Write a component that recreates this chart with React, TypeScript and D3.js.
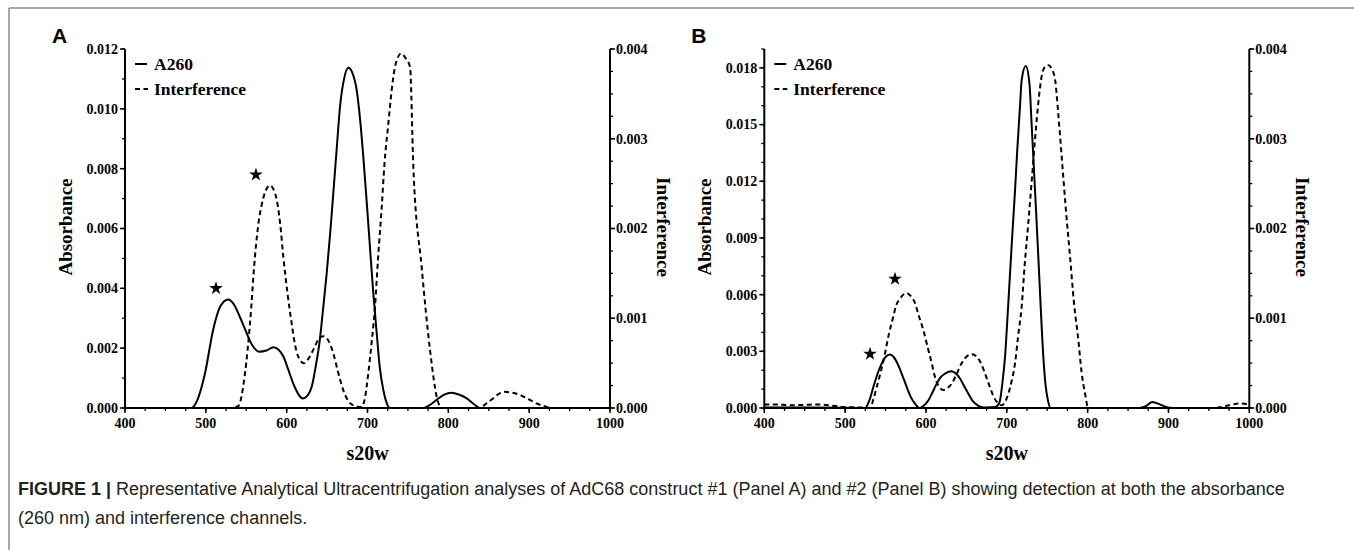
import React from "react";
import * as d3 from "d3";

// ---------- DATA ----------
const X_TICKS = [400, 500, 600, 700, 800, 900, 1000];
const A_LEFT_TICKS = [0, 0.002, 0.004, 0.006, 0.008, 0.01, 0.012];
const B_LEFT_TICKS = [0, 0.003, 0.006, 0.009, 0.012, 0.015, 0.018];
const RIGHT_TICKS = [0, 0.001, 0.002, 0.003, 0.004];

// Panel A, A260 (left axis)
const A_A260: [number, number][] = [
  [400, 0], [470, 0], [482, 0], [490, 0.0003], [499, 0.00116], [509, 0.00261], [518, 0.0034],
  [527.8, 0.00363], [535, 0.00345], [542, 0.00305], [549, 0.0026], [555, 0.00222], [560, 0.002],
  [566, 0.00188], [575, 0.00192], [583.5, 0.00203], [590, 0.00195], [596, 0.00172], [602, 0.00128],
  [608, 0.00083], [614, 0.00048], [620, 0.00032], [626, 0.00042], [631, 0.00071], [636, 0.0014],
  [641, 0.00227], [645, 0.0033], [649.5, 0.0045], [654, 0.0059], [658, 0.00729], [662, 0.0087],
  [666, 0.01007], [671, 0.0110], [676.3, 0.01137], [681, 0.01122], [686.6, 0.01063], [691, 0.0096],
  [694.8, 0.0084], [699, 0.0069], [703, 0.00539], [707, 0.0039], [711.4, 0.0025], [715, 0.0014],
  [719.6, 0.0006], [724, 0.00015], [728, 0], [769, 0], [777, 0.0001], [785.6, 0.00027], [795, 0.00045],
  [804, 0.00051], [813, 0.00045], [822.7, 0.00032], [831, 0.00014], [839, 0], [1000, 0],
];

// Panel A, Interference (right axis)
const A_INTERF: [number, number][] = [
  [400, 0], [530, 0], [540, 0.00002], [548.5, 0.00039], [554.6, 0.00094], [560.8, 0.00169],
  [565, 0.00205], [569, 0.00226], [574, 0.00242], [579.4, 0.00248], [584, 0.00243], [587.7, 0.00232],
  [592, 0.00205], [595.8, 0.00169], [601, 0.00128], [606.2, 0.00094], [610, 0.00072], [614.4, 0.00057],
  [621.5, 0.0005], [627, 0.00055], [633, 0.00065], [639, 0.00076], [645.3, 0.0008], [651, 0.00076],
  [657.7, 0.00061], [663, 0.00042], [670, 0.0002], [676, 0.00008], [682.4, 0.00003], [692.8, 0.00001],
  [697, 0.00012], [701, 0.00039], [705, 0.00072], [709.3, 0.00113], [713, 0.00166], [717.6, 0.00224],
  [721, 0.00272], [725.8, 0.00317], [730, 0.00355], [734, 0.0038], [741.5, 0.00395], [747, 0.0039],
  [752.6, 0.0038], [756.7, 0.00269], [767, 0.00157], [777.3, 0.00065], [785.6, 0.000126],
  [791.8, 0], [839, 0], [847, 0.00005], [855.7, 0.000108], [863, 0.00016], [870, 0.00018],
  [879, 0.00017], [888.7, 0.000145], [899, 0.0001], [909.3, 0.00005], [919, 0.00002], [929, 0], [1000, 0],
];

// Panel B, A260 (left axis)
const B_A260: [number, number][] = [
  [400, 0.00002], [450, 0.00002], [500, 0.00001], [524.6, 0], [530, 0.0004], [534.9, 0.00111],
  [540, 0.0018], [545.2, 0.00235], [550, 0.0027], [555.5, 0.00283], [560, 0.0027], [565.8, 0.00226],
  [571, 0.0017], [576.2, 0.00111], [581, 0.0006], [586.4, 0.00023], [592.6, 0], [597, 0.00012],
  [602.9, 0.0004], [608, 0.00082], [613.3, 0.00129], [618, 0.00162], [623.6, 0.00182], [631.8, 0.00194],
  [637, 0.00182], [642.1, 0.00156], [647, 0.00118], [652.4, 0.00076], [657, 0.00042], [662.7, 0.00018],
  [668, 0.00006], [675, 0.00003], [685.4, 0.00005], [689, 0.00015], [691.6, 0.0004], [694.5, 0.0013],
  [697.8, 0.0027], [701, 0.0049], [704, 0.00712], [707, 0.0093], [710.2, 0.01153], [713, 0.0137],
  [716.3, 0.01594], [718.4, 0.01736], [723.4, 0.0181], [728, 0.01718], [730.5, 0.0152], [732.8, 0.0133],
  [736, 0.0106], [739, 0.008], [742, 0.0053], [745.2, 0.0027], [748, 0.0012], [750.1, 0.00058],
  [754.3, 0], [864, 0], [872, 0.0001], [880, 0.00032], [890, 0.00018], [898, 0.00004], [905, 0], [1000, 0],
];

// Panel B, Interference (right axis)
const B_INTERF: [number, number][] = [
  [400, 0.000038], [415, 0.00004], [432, 0.00003], [450, 0.000035], [465, 0.00004], [480, 0.00003],
  [500, 0.00001], [520, 0.000005], [530.8, 0], [535, 0.0001], [539, 0.00023], [544, 0.0004],
  [549.3, 0.00061], [554, 0.00082], [559.6, 0.00102], [563, 0.00114], [567.9, 0.00122], [576.1, 0.00128],
  [581, 0.00125], [586.4, 0.00117], [591, 0.00103], [596.7, 0.00087], [602, 0.00068], [607.1, 0.0005],
  [611, 0.00035], [615.3, 0.00025], [621.5, 0.0002], [626, 0.00022], [631.8, 0.00027], [638, 0.00038],
  [644.2, 0.0005], [650, 0.00057], [656.6, 0.0006], [663, 0.00057], [669, 0.00048], [674, 0.00036],
  [679.2, 0.00023], [684, 0.00012], [687.5, 0.00007], [693.7, 0.00003], [698, 0.00007], [701.9, 0.00016],
  [706, 0.0003], [710.2, 0.0005], [714, 0.0008], [718.4, 0.00113], [722, 0.00158], [726.6, 0.00206],
  [731, 0.00255], [734.9, 0.00299], [739, 0.0034], [743.2, 0.0037], [747, 0.0038], [751.4, 0.00382],
  [755.5, 0.00378], [759.7, 0.00366], [763.5, 0.0033], [767.9, 0.0028], [773, 0.00222], [778.2, 0.00169],
  [783, 0.00118], [788.5, 0.00076], [792.5, 0.0004], [796.8, 0.00016], [800.8, 0], [955, 0],
  [965, 0.00001], [975, 0.00003], [988.5, 0.00005], [1000, 0.00004],
];

// star markers: [s20w, absorbance]
const A_STARS: [number, number][] = [[512.6, 0.004], [562, 0.0078]];
const B_STARS: [number, number][] = [[530.8, 0.00286], [561.7, 0.00683]];

// ---------- DRAWING ----------
const SERIF = "'Liberation Serif', 'Times New Roman', Times, serif";
const SANS = "'Liberation Sans', Arial, Helvetica, sans-serif";

type PanelProps = {
  letter: string;
  x0: number;
  x1: number;
  leftMax: number;
  leftTicks: number[];
  leftMinorStep: number;
  a260: [number, number][];
  interf: [number, number][];
  stars: [number, number][];
};

const Y_TOP = 49;
const Y_BOT = 408;

function Panel(p: PanelProps) {
  const x = d3.scaleLinear().domain([400, 1000]).range([p.x0, p.x1]);
  const yL = d3.scaleLinear().domain([0, p.leftMax]).range([Y_BOT, Y_TOP]);
  const yR = d3.scaleLinear().domain([0, 0.004]).range([Y_BOT, Y_TOP]);
  const fmt = d3.format(".3f");

  const lineL = d3
    .line<[number, number]>()
    .x((d) => x(d[0]))
    .y((d) => yL(d[1]))
    .curve(d3.curveMonotoneX);
  const lineR = d3
    .line<[number, number]>()
    .x((d) => x(d[0]))
    .y((d) => yR(d[1]))
    .curve(d3.curveMonotoneX);

  const leftMinor = d3.range(0, p.leftMax + 1e-9, p.leftMinorStep);
  const rightMinor = d3.range(0, 0.004 + 1e-9, 0.00025);
  const xMinor = d3.range(400, 1000.001, 25);
  const star = d3.symbol(d3.symbolStar, 58)();
  const midY = 227;
  const cx = (p.x0 + p.x1) / 2;

  return (
    <g>
      <text x={p.x0 - 73} y={43} fontFamily={SANS} fontWeight="bold" fontSize={21} fill="#000">
        {p.letter}
      </text>

      {/* curves */}
      <path d={lineL(p.a260) || ""} fill="none" stroke="#000" strokeWidth={2} strokeLinejoin="round" />
      <path d={lineR(p.interf) || ""} fill="none" stroke="#000" strokeWidth={2} strokeDasharray="5,3.5" />

      {p.stars.map((s, i) => (
        <path key={i} d={star || ""} transform={`translate(${x(s[0])},${yL(s[1])})`} fill="#000" />
      ))}

      {/* x axis */}
      <line x1={p.x0} x2={p.x1} y1={Y_BOT} y2={Y_BOT} stroke="#000" strokeWidth={2} />
      {xMinor.map((t) => (
        <line key={"xm" + t} x1={x(t)} x2={x(t)} y1={Y_BOT} y2={Y_BOT + 3} stroke="#000" strokeWidth={1.3} />
      ))}
      {X_TICKS.map((t) => (
        <g key={"x" + t}>
          <line x1={x(t)} x2={x(t)} y1={Y_BOT} y2={Y_BOT + 5} stroke="#000" strokeWidth={1.5} />
          <text x={x(t)} y={Y_BOT + 20} textAnchor="middle" fontFamily={SERIF} fontWeight="bold" fontSize={14}>
            {t}
          </text>
        </g>
      ))}
      <text x={cx} y={460} textAnchor="middle" fontFamily={SERIF} fontWeight="bold" fontSize={20}>
        s20w
      </text>

      {/* left axis */}
      <line x1={p.x0} x2={p.x0} y1={Y_TOP} y2={Y_BOT} stroke="#000" strokeWidth={2} />
      {leftMinor.map((t, i) => (
        <line key={"lm" + i} x1={p.x0 - 3} x2={p.x0} y1={yL(t)} y2={yL(t)} stroke="#000" strokeWidth={1.3} />
      ))}
      {p.leftTicks.map((t) => (
        <g key={"l" + t}>
          <line x1={p.x0 - 5} x2={p.x0} y1={yL(t)} y2={yL(t)} stroke="#000" strokeWidth={1.5} />
          <text x={p.x0 - 7} y={yL(t)} dy="0.35em" textAnchor="end" fontFamily={SERIF} fontWeight="bold" fontSize={14}>
            {fmt(t)}
          </text>
        </g>
      ))}
      <text
        transform={`translate(${p.x0 - 53.5},${midY}) rotate(-90)`}
        textAnchor="middle"
        fontFamily={SERIF}
        fontWeight="bold"
        fontSize={19}
      >
        Absorbance
      </text>

      {/* right axis */}
      <line x1={p.x1} x2={p.x1} y1={Y_TOP} y2={Y_BOT} stroke="#000" strokeWidth={2} />
      {rightMinor.map((t, i) => (
        <line key={"rm" + i} x1={p.x1} x2={p.x1 + 3} y1={yR(t)} y2={yR(t)} stroke="#000" strokeWidth={1.3} />
      ))}
      {RIGHT_TICKS.map((t) => (
        <g key={"r" + t}>
          <line x1={p.x1} x2={p.x1 + 5} y1={yR(t)} y2={yR(t)} stroke="#000" strokeWidth={1.5} />
          <text x={p.x1 + 6} y={yR(t)} dy="0.35em" textAnchor="start" fontFamily={SERIF} fontWeight="bold" fontSize={14}>
            {fmt(t)}
          </text>
        </g>
      ))}
      <text
        transform={`translate(${p.x1 + 46.5},${midY}) rotate(90)`}
        textAnchor="middle"
        fontFamily={SERIF}
        fontWeight="bold"
        fontSize={19}
      >
        Interference
      </text>

      {/* legend */}
      <line x1={p.x0 + 10} x2={p.x0 + 22} y1={64} y2={64} stroke="#000" strokeWidth={2} />
      <text x={p.x0 + 29} y={64} dy="0.35em" fontFamily={SERIF} fontWeight="bold" fontSize={17.5}>
        A260
      </text>
      <line x1={p.x0 + 10} x2={p.x0 + 23} y1={89} y2={89} stroke="#000" strokeWidth={2} strokeDasharray="5,3.5" />
      <text x={p.x0 + 29} y={89} dy="0.35em" fontFamily={SERIF} fontWeight="bold" fontSize={17.5}>
        Interference
      </text>
    </g>
  );
}

export default function App() {
  return (
    <svg
      width={1354}
      height={550}
      style={{ position: "absolute", left: 0, top: 0, background: "#fff" }}
    >
      <rect x={0} y={0} width={1354} height={550} fill="#fff" />
      {/* frame */}
      <line x1={9} x2={1354} y1={8} y2={8} stroke="#8c8c8c" strokeWidth={1.5} />
      <line x1={9} x2={9} y1={8} y2={550} stroke="#8c8c8c" strokeWidth={1.5} />

      <Panel
        letter="A"
        x0={125}
        x1={610}
        leftMax={0.012}
        leftTicks={A_LEFT_TICKS}
        leftMinorStep={0.001}
        a260={A_A260}
        interf={A_INTERF}
        stars={A_STARS}
      />
      <Panel
        letter="B"
        x0={764.3}
        x1={1249.3}
        leftMax={0.019}
        leftTicks={B_LEFT_TICKS}
        leftMinorStep={0.001}
        a260={B_A260}
        interf={B_INTERF}
        stars={B_STARS}
      />

      {/* caption */}
      <text x={18} y={495} fontFamily={SANS} fontSize={18} fill="#231f20">
        <tspan fontWeight="bold">FIGURE 1 | </tspan>
        <tspan>
          Representative Analytical Ultracentrifugation analyses of AdC68 construct #1 (Panel A) and #2 (Panel B) showing detection at both the absorbance
        </tspan>
      </text>
      <text x={18} y={524} fontFamily={SANS} fontSize={18} fill="#231f20">
        (260 nm) and interference channels.
      </text>
    </svg>
  );
}
